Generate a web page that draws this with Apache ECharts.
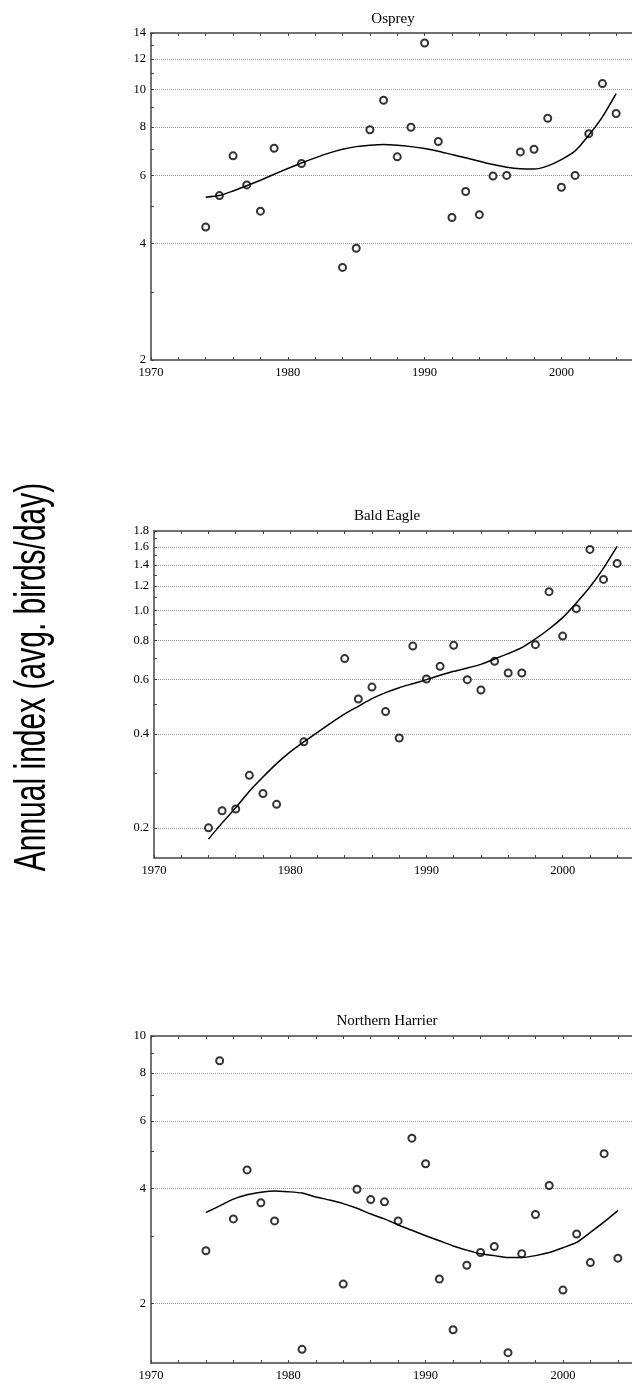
<!DOCTYPE html>
<html>
<head>
<meta charset="utf-8">
<script src="https://cdn.jsdelivr.net/npm/echarts@6/dist/echarts.min.js"></script>
<style>
html,body{margin:0;padding:0;background:#fff;}
#chart{width:632px;height:1386px;}
</style>
</head>
<body>
<div id="chart"></div>
<script>
// ---- Data ----
const obsYears = [1974,1975,1976,1977,1978,1979,1981,1984,1985,1986,1987,1988,1989,1990,1991,1992,1993,1994,1995,1996,1997,1998,1999,2000,2001,2002,2003,2004];
const fitYears = [1974,1975,1976,1977,1978,1979,1980,1981,1982,1983,1984,1985,1986,1987,1988,1989,1990,1991,1992,1993,1994,1995,1996,1997,1998,1999,2000,2001,2002,2003,2004];

const ospreyObs = [4.41,5.32,6.74,5.67,4.85,7.05,6.44,3.47,3.89,7.87,9.38,6.70,7.99,13.19,7.34,4.67,5.45,4.75,5.98,6.0,6.90,7.01,8.43,5.59,6.0,7.69,10.36,8.67];
const ospreyFit = [5.27,5.32,5.47,5.64,5.83,6.04,6.25,6.46,6.66,6.85,7.01,7.12,7.18,7.21,7.18,7.12,7.04,6.93,6.79,6.66,6.53,6.40,6.30,6.24,6.23,6.35,6.59,6.94,7.62,8.50,9.76];

const eagleObs = [0.20,0.227,0.230,0.295,0.258,0.238,0.378,0.700,0.519,0.567,0.473,0.389,0.768,0.602,0.661,0.772,0.599,0.555,0.686,0.629,0.629,0.776,1.149,0.827,1.013,1.571,1.258,1.416];
const eagleFit = [0.184,0.2075,0.2319,0.2624,0.2915,0.3218,0.3509,0.378,0.4058,0.4349,0.4648,0.4918,0.5204,0.5441,0.5645,0.5815,0.599,0.6186,0.6371,0.6529,0.6708,0.6978,0.7262,0.7591,0.8094,0.8716,0.9478,1.0568,1.189,1.368,1.606];

const harrierObs = [2.75,8.62,3.33,4.47,3.67,3.29,1.52,2.25,3.98,3.74,3.69,3.29,5.41,4.64,2.32,1.71,2.52,2.72,2.82,1.49,2.70,3.42,4.07,2.17,3.04,2.56,4.93,2.63];
const harrierFit = [3.46,3.60,3.75,3.85,3.91,3.94,3.92,3.89,3.80,3.73,3.65,3.55,3.43,3.33,3.21,3.11,3.01,2.92,2.83,2.76,2.70,2.67,2.64,2.64,2.67,2.72,2.80,2.89,3.07,3.27,3.50];

// tick values (real units)
const ospreyTicks = [2,3,4,5,6,7,8,9,10,11,12,13,14];
const ospreyLabels = [2,4,6,8,10,12,14];
const ospreyGrid = [4,6,8,10,12];
const eagleTicks = [0.2,0.3,0.4,0.5,0.6,0.7,0.8,0.9,1.0,1.1,1.2,1.3,1.4,1.5,1.6,1.7,1.8];
const eagleLabels = [0.2,0.4,0.6,0.8,1.0,1.2,1.4,1.6,1.8];
const eagleGrid = [0.2,0.4,0.6,0.8,1.0,1.2,1.4,1.6];
const harrierTicks = [2,3,4,5,6,7,8,9,10];
const harrierLabels = [2,4,6,8,10];
const harrierGrid = [2,4,6,8];

const panelTitles = ['Osprey','Bald Eagle','Northern Harrier'];
const yTitle = 'Annual index (avg. birds/day)';

// ---- Build ----
const L = Math.log10;
const panels = [
  {obs: ospreyObs, fit: ospreyFit, ticks: ospreyTicks, labels: ospreyLabels, grid: ospreyGrid, ymin: 2, ymax: 14, dec: 0,
   box: {left: 151, top: 33, height: 327}, xmax: 2005.16, title: {x: 388, y: 7}},
  {obs: eagleObs, fit: eagleFit, ticks: eagleTicks, labels: eagleLabels, grid: eagleGrid, ymin: 0.16, ymax: 1.8, dec: 1,
   box: {left: 154, top: 531, height: 327}, xmax: 2005.09, title: {x: 382, y: 504}},
  {obs: harrierObs, fit: harrierFit, ticks: harrierTicks, labels: harrierLabels, grid: harrierGrid, ymin: 1.4, ymax: 10, dec: 0,
   box: {left: 151, top: 1036, height: 327}, xmax: 2005.03, title: {x: 382, y: 1009}}
];

const serif = '"Liberation Serif", "Times New Roman", serif';
const axisColor = '#444';
const grids = [], xAxes = [], yAxes = [], series = [], titles = [];

panels.forEach((p, i) => {
  grids.push({left: p.box.left, top: p.box.top, height: p.box.height, right: 0, outerBoundsMode: 'none', containLabel: false});
  titles.push({text: panelTitles[i], left: p.title.x, top: p.title.y, textAlign: 'center',
    textStyle: {fontFamily: serif, fontSize: 15, fontWeight: 'normal', color: '#000'}});
  const xBase = {type: 'value', gridIndex: i, min: 1970, max: p.xmax, interval: 2};
  xAxes.push(Object.assign({}, xBase, {
    position: 'bottom',
    axisLine: {show: true, onZero: false, lineStyle: {color: axisColor, width: 1.5}},
    axisTick: {show: true, inside: true, length: 3, lineStyle: {color: axisColor}},
    axisLabel: {show: true, margin: 6, fontFamily: serif, fontSize: 12.5, color: '#000', showMaxLabel: false,
      formatter: v => (Math.abs(v % 10) < 1e-6 ? String(Math.round(v)) : '')},
    splitLine: {show: false}
  }));
  xAxes.push(Object.assign({}, xBase, {
    position: 'top',
    axisLine: {show: true, onZero: false, lineStyle: {color: axisColor, width: 1.5}},
    axisTick: {show: true, inside: true, length: 3, lineStyle: {color: axisColor}},
    axisLabel: {show: false},
    splitLine: {show: false}
  }));
  const fmt = v => {
    const real = Math.pow(10, v);
    let best = p.labels[0];
    p.labels.forEach(l => { if (Math.abs(l - real) < Math.abs(best - real)) best = l; });
    return best.toFixed(p.dec);
  };
  const yBase = {type: 'value', gridIndex: i, min: L(p.ymin), max: L(p.ymax), position: 'left'};
  yAxes.push(Object.assign({}, yBase, {
    axisLine: {show: true, onZero: false, lineStyle: {color: axisColor, width: 1.5}},
    axisTick: {show: true, inside: true, length: 3, lineStyle: {color: axisColor}, customValues: p.ticks.map(L)},
    axisLabel: {show: true, margin: 5, fontFamily: serif, fontSize: 12.5, color: '#000',
      customValues: p.labels.map(L), formatter: fmt},
    splitLine: {show: false}
  }));
  yAxes.push(Object.assign({}, yBase, {
    axisLine: {show: false},
    axisTick: {show: false, customValues: p.grid.map(L)},
    axisLabel: {show: false},
    splitLine: {show: true, lineStyle: {color: '#9a9a9a', type: [1, 1], width: 1}}
  }));
  series.push({
    type: 'scatter', xAxisIndex: 2 * i, yAxisIndex: 2 * i,
    data: obsYears.map((y, k) => [y, L(p.obs[k])]),
    symbol: 'emptyCircle', symbolSize: 7,
    itemStyle: {color: '#000', borderColor: '#000', borderWidth: 1},
    silent: true, z: 3
  });
  series.push({
    type: 'line', xAxisIndex: 2 * i, yAxisIndex: 2 * i,
    data: fitYears.map((y, k) => [y, L(p.fit[k])]),
    showSymbol: false, smooth: 0.2,
    lineStyle: {color: '#000', width: 1.5},
    silent: true, z: 4
  });
});

const chart = echarts.init(document.getElementById('chart'), null, {renderer: 'canvas'});
chart.setOption({
  backgroundColor: '#fff',
  animation: false,
  title: titles,
  grid: grids,
  xAxis: xAxes,
  yAxis: yAxes,
  series: series,
  graphic: [{
    type: 'text', x: 33, y: 677, rotation: Math.PI / 2, scaleY: 1.45,
    style: {text: yTitle, font: '30px "Liberation Sans", Arial, sans-serif', fill: '#000',
      align: 'center', verticalAlign: 'middle', textAlign: 'center', textVerticalAlign: 'middle'}
  }]
});
</script>
</body>
</html>
